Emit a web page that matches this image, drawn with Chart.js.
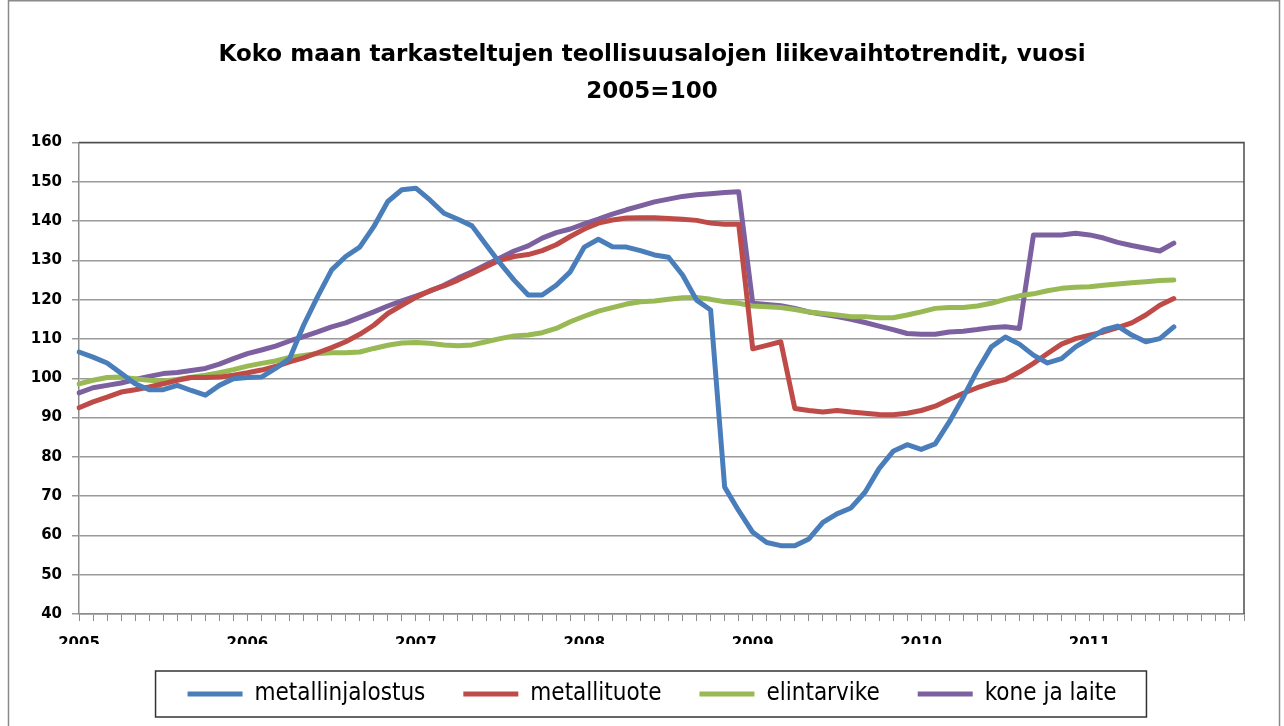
<!DOCTYPE html>
<html>
<head>
<meta charset="utf-8">
<script src="https://cdn.jsdelivr.net/npm/chart.js@4.4.1/dist/chart.umd.min.js"></script>
<style>
  html, body { margin: 0; padding: 0; background: #fff; }
  #wrap { position: relative; width: 1284px; height: 726px; }
</style>
</head>
<body>
<div id="wrap"><canvas id="chart" width="1284" height="726"></canvas></div>
<script>
// Vuodet x-akselilla, kuukausittainen aikasarja
const years = ['2005', '2006', '2007', '2008', '2009', '2010', '2011'];
const monthsPerYear = 12;

const metallinjalostus = [106.7, 105.4, 103.9, 101.3, 98.6, 97.1, 97.1, 98.2, 96.9, 95.7, 98.2, 99.9, 100.2, 100.3, 102.5, 105,
    113.5, 120.8, 127.6, 131, 133.4, 138.6, 145, 148, 148.4, 145.4, 142, 140.5, 138.8, 134, 129.3, 125,
    121.2, 121.2, 123.7, 127.1, 133.4, 135.4, 133.5, 133.4, 132.5, 131.4, 130.8, 126.3, 119.9, 117.4, 72.3, 66.3,
    60.8, 58.2, 57.4, 57.4, 59.1, 63.3, 65.5, 67, 71, 77, 81.4, 83.1, 81.9, 83.3, 88.9, 95.2,
    102, 108, 110.5, 108.7, 105.9, 103.9, 105, 108, 110.1, 112.3, 113.3, 111, 109.3, 110.1, 113.1];

const metallituote = [92.5, 94, 95.2, 96.5, 97.1, 97.8, 98.6, 99.5, 100.2, 100.2, 100.3, 100.8, 101.4, 102.1, 103, 104.2,
    105.2, 106.5, 107.8, 109.3, 111.2, 113.5, 116.5, 118.6, 120.6, 122.3, 123.5, 125, 126.7, 128.4, 130.1, 131,
    131.5, 132.5, 134, 136.1, 138, 139.5, 140.3, 140.8, 140.9, 140.9, 140.7, 140.5, 140.2, 139.5, 139.2, 139.2,
    107.5, 108.4, 109.3, 92.3, 91.8, 91.4, 91.8, 91.4, 91.1, 90.8, 90.7, 91.1, 91.8, 92.9, 94.6, 96.2,
    97.6, 98.8, 99.7, 101.6, 103.8, 106.3, 108.7, 110.1, 111, 111.8, 112.9, 114.1, 116.1, 118.6, 120.3];

const elintarvike = [98.6, 99.5, 100.2, 100.3, 99.9, 99.5, 99.3, 99.7, 100.3, 100.8, 101.4, 102.2, 103.1, 103.8, 104.4, 105.3,
    105.8, 106.3, 106.5, 106.5, 106.7, 107.6, 108.4, 109, 109.1, 108.9, 108.5, 108.3, 108.5, 109.3, 110.1, 110.8,
    111, 111.6, 112.7, 114.4, 115.8, 117.1, 118, 118.9, 119.5, 119.7, 120.1, 120.5, 120.6, 120.1, 119.5, 119.1,
    118.4, 118.2, 118, 117.5, 116.9, 116.5, 116.1, 115.7, 115.7, 115.4, 115.4, 116.1, 116.9, 117.8, 118, 118,
    118.4, 119.1, 120.1, 121, 121.5, 122.3, 122.9, 123.2, 123.3, 123.7, 124, 124.3, 124.6, 124.9, 125];

const koneJaLaite = [96.3, 97.6, 98.2, 98.8, 99.7, 100.5, 101.2, 101.5, 102, 102.5, 103.6, 105, 106.3, 107.2, 108.2, 109.5,
    110.6, 111.8, 113.1, 114.1, 115.5, 116.9, 118.4, 119.7, 120.9, 122.2, 123.7, 125.5, 127.1, 128.9, 130.6, 132.4,
    133.7, 135.7, 137.1, 138, 139.3, 140.5, 141.8, 142.9, 143.9, 144.9, 145.6, 146.3, 146.7, 147, 147.3, 147.5,
    119.1, 118.8, 118.5, 117.8, 116.9, 116.3, 115.7, 115, 114.2, 113.3, 112.4, 111.4, 111.2, 111.2, 111.8, 112,
    112.4, 112.9, 113.1, 112.7, 136.5, 136.5, 136.5, 136.9, 136.5, 135.7, 134.6, 133.8, 133.1, 132.4, 134.4];

const seriesNames = ['metallinjalostus', 'metallituote', 'elintarvike', 'kone ja laite'];
const seriesColors = ['#4A7EBB', '#BE4B48', '#98B954', '#7D60A0'];

// Kategoriat: vuosi tammikuulle, muut kuukaudet tyhjiä
const labels = [];
years.forEach(y => {
    for (let m = 0; m < monthsPerYear; m++) labels.push(m === 0 ? y : '');
});

const allSeries = [metallinjalostus, metallituote, elintarvike, koneJaLaite];

// Kehykset: koko kaavion reunus, piirtoalueen reunus ja selitteen laatikko
const framePlugin = {
    id: 'frames',
    afterDraw(chart) {
        const ctx = chart.ctx;
        const a = chart.chartArea;
        ctx.save();
        // ulkoreunus
        ctx.strokeStyle = '#8a8a8a';
        ctx.lineWidth = 1.5;
        ctx.beginPath();
        ctx.moveTo(8.5, 730);
        ctx.lineTo(8.5, 0.75);
        ctx.lineTo(1279.5, 0.75);
        ctx.lineTo(1279.5, 730);
        ctx.stroke();
        // piirtoalueen ylä- ja oikea reuna
        ctx.strokeStyle = '#4d4d4d';
        ctx.lineWidth = 1.5;
        ctx.beginPath();
        ctx.moveTo(a.left, a.top);
        ctx.lineTo(a.right, a.top);
        ctx.lineTo(a.right, a.bottom);
        ctx.stroke();
        // selitteen laatikko
        const boxes = chart.legend.legendHitBoxes;
        if (boxes && boxes.length) {
            const left = Math.min(...boxes.map(b => b.left)) - 32;
            const right = Math.max(...boxes.map(b => b.left + b.width)) + 30;
            const top = boxes[0].top - 11;
            const bottom = boxes[0].top + boxes[0].height + 11;
            ctx.strokeStyle = '#333';
            ctx.lineWidth = 1.5;
            ctx.strokeRect(left, top, right - left, bottom - top);
        }
        ctx.restore();
    }
};

new Chart(document.getElementById('chart'), {
    type: 'line',
    data: {
        labels: labels,
        datasets: allSeries.map((values, i) => ({
            label: seriesNames[i],
            data: values,
            borderColor: seriesColors[i],
            backgroundColor: seriesColors[i],
            borderWidth: 5,
            pointRadius: 0,
            tension: 0,
            borderJoinStyle: 'round',
            borderCapStyle: 'round',
            fill: false
        }))
    },
    options: {
        responsive: false,
        animation: false,
        layout: { padding: { left: 0, right: -20, top: 8, bottom: 18 } },
        plugins: {
            title: {
                display: true,
                text: ['Koko maan tarkasteltujen teollisuusalojen liikevaihtotrendit, vuosi', '2005=100'],
                color: '#000',
                font: { family: 'DejaVu Sans', size: 23, weight: 'bold', lineHeight: 1.6 },
                padding: { top: 29, bottom: 32 }
            },
            legend: {
                position: 'bottom',
                maxHeight: 64,
                labels: {
                    usePointStyle: true,
                    pointStyle: 'line',
                    pointStyleWidth: 55,
                    padding: 38,
                    color: '#000',
                    font: { family: "'DejaVu Sans Condensed', 'Liberation Sans Narrow', 'DejaVu Sans'", size: 24 }
                }
            },
            tooltip: { enabled: false }
        },
        scales: {
            x: {
                offset: false,
                afterFit: scale => { scale.height = 30; },
                grid: {
                    drawOnChartArea: false,
                    drawTicks: true,
                    tickLength: 7,
                    color: '#8c8c8c'
                },
                border: { color: '#8c8c8c', width: 1.5 },
                ticks: {
                    autoSkip: false,
                    maxRotation: 0,
                    minRotation: 0,
                    padding: 14,
                    color: '#000',
                    font: { family: 'DejaVu Sans', size: 15, weight: 'bold' }
                }
            },
            y: {
                min: 40,
                max: 160,
                afterFit: scale => { scale.width = 79; },
                grid: {
                    color: '#9a9a9a',
                    lineWidth: 1.5,
                    tickLength: 7
                },
                border: { color: '#8c8c8c', width: 1.5 },
                ticks: {
                    stepSize: 10,
                    padding: 10,
                    color: '#000',
                    font: { family: 'DejaVu Sans', size: 15, weight: 'bold' }
                }
            },
            // tyhjä oikea akseli vain tilanvaraukseksi
            yPad: {
                position: 'right',
                min: 0,
                max: 1,
                afterFit: scale => { scale.width = 60; },
                grid: { display: false },
                border: { display: false },
                ticks: { display: false }
            }
        }
    },
    plugins: [framePlugin]
});
</script>
</body>
</html>
